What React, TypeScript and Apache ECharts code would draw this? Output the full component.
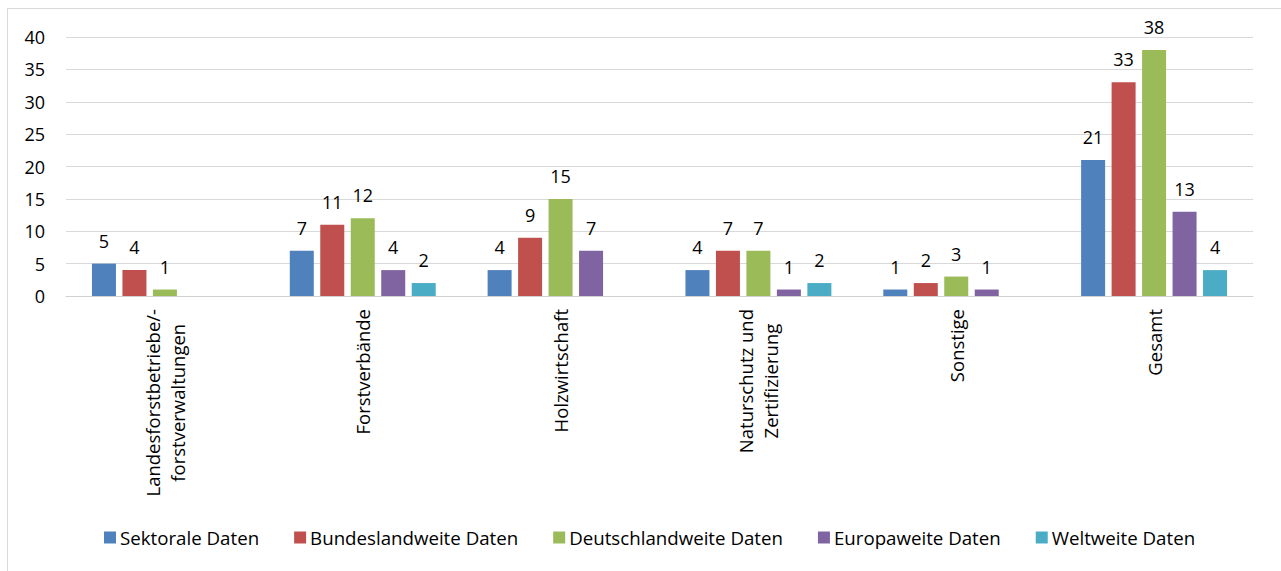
import React, { useEffect, useRef } from "react";
import * as echarts from "echarts";

const categories = [
  "Landesforstbetriebe/-\nforstverwaltungen",
  "Forstverbände",
  "Holzwirtschaft",
  "Naturschutz und\nZertifizierung",
  "Sonstige",
  "Gesamt",
];
const seriesNames = [
  "Sektorale Daten",
  "Bundeslandweite Daten",
  "Deutschlandweite Daten",
  "Europaweite Daten",
  "Weltweite Daten",
];
const sektorale = [5, 7, 4, 4, 1, 21];
const bundeslandweite = [4, 11, 9, 7, 2, 33];
const deutschlandweite = [1, 12, 15, 7, 3, 38];
const europaweite = [null, 4, 7, 1, 1, 13];
const weltweite = [null, 2, null, 2, null, 4];
const colors = ["#4F81BD", "#C0504D", "#9BBB59", "#8064A2", "#4BACC6"];

const FONT = "'Open Sans', sans-serif";
const FS = 18;

export default function App() {
  const ref = useRef<HTMLDivElement>(null);
  useEffect(() => {
    if (!ref.current) return;
    const chart = echarts.init(ref.current, null, { renderer: "svg" });
    const values = [sektorale, bundeslandweite, deutschlandweite, europaweite, weltweite];
    chart.setOption({
      animation: false,
      color: colors,
      textStyle: { fontFamily: FONT },
      grid: { left: 58, top: 28, width: 1187, height: 259, containLabel: false },
      legend: {
        left: 91,
        top: 514,
        itemWidth: 12,
        itemHeight: 12,
        itemGap: 35,
        icon: "rect",
        textStyle: { fontFamily: FONT, fontSize: 18.7, color: "#000", padding: [0, 0, 0, -1] },
        data: seriesNames,
      },
      xAxis: {
        type: "category",
        data: categories,
        axisLine: { lineStyle: { color: "#d0d0d0", width: 1 } },
        axisTick: { show: false },
        axisLabel: {
          rotate: 90,
          margin: 13,
          interval: 0,
          formatter: (v: string) => v.split("\n").map((l) => `{c|${l}}`).join("\n"),
          rich: {
            c: { align: "center", fontFamily: FONT, fontSize: 18.5, color: "#000", lineHeight: 25 },
          },
        },
      },
      yAxis: {
        type: "value",
        min: 0,
        max: 40,
        interval: 5,
        axisLine: { show: false },
        axisTick: { show: false },
        splitLine: { lineStyle: { color: "#d9d9d9", width: 1 } },
        axisLabel: { margin: 21, fontFamily: FONT, fontSize: FS, color: "#000" },
      },
      series: seriesNames.map((name, i) => ({
        name,
        type: "bar",
        data: values[i],
        barWidth: 24,
        barGap: "27%",
        itemStyle: { color: colors[i] },
        label: {
          show: true,
          position: "top",
          distance: 14,
          fontFamily: FONT,
          fontSize: FS,
          color: "#000",
        },
      })),
    });
    return () => chart.dispose();
  }, []);
  return (
    <div
      style={{
        position: "fixed",
        left: 7,
        top: 8,
        width: 1300,
        height: 600,
        borderTop: "1px solid #d9d9d9",
        borderLeft: "1px solid #d9d9d9",
        background: "#fff",
      }}
    >
      <div ref={ref} style={{ width: 1273, height: 562 }} />
    </div>
  );
}
